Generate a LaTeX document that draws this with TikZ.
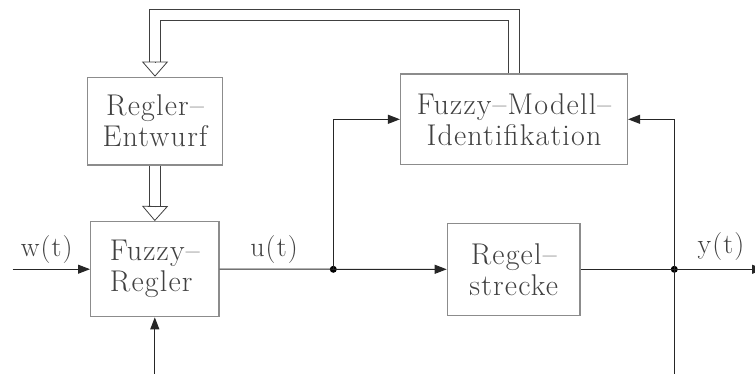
\documentclass[tikz,border=0pt]{standalone}
\usepackage{fontspec}
\setmainfont{Latin Modern Roman}[LetterSpace=4]
\usetikzlibrary{arrows.meta}
\definecolor{boxline}{RGB}{140,140,140}
\begin{document}
\begin{tikzpicture}[x=1pt,y=-1pt,
  box/.style={draw=boxline, line width=1.3pt, inner sep=0pt,
    font=\fontsize{30}{31}\selectfont, text=black!75},
  sig/.style={draw=black!85, line width=1pt, -{Triangle[length=12pt,width=9pt]}},
  dbl/.style={draw=black!75, double=white, double distance=10pt, line width=1pt, line join=miter},
  openhead/.style={draw=black!75, line width=0.8pt, -{Triangle[open,length=15pt,width=26pt]}},
  lbl/.style={font=\fontsize{28}{30}\selectfont, text=black!75, inner sep=0pt},
  junction/.style={circle, fill=black, inner sep=0pt, minimum size=7pt}]
\useasboundingbox (0,0) rectangle (755,374);

% blocks
\node[box, minimum width=135.4pt, minimum height=87.7pt, align=center] (re) at (155,121.2) {Regler--\\Entwurf};
\node[box, minimum width=128.3pt, minimum height=95pt, align=left] (fr) at (154.8,269.2) {Fuzzy--\\Regler};
\node[box, minimum width=226.8pt, minimum height=90.7pt, align=center] (fmi) at (514,119.3) {Fuzzy--Modell--\\Identifikation};
\node[box, minimum width=132.7pt, minimum height=92pt, align=center] (rs) at (513.7,269.3) {Regel--\\strecke};

% free ends and branch points
\coordinate (win) at (12.7,269.2);
\coordinate (rin) at (154.8,374);
\coordinate (ybot) at (674.3,374);
\coordinate (yout) at (764,269.3);
\node[junction] (uj) at (333.3,269.3) {};
\node[junction] (yj) at (674.3,269.3) {};
\coordinate (tl) at (155,15);
\coordinate (rehead) at (155,62);
\coordinate (frhead) at (155,207);

% signal lines
\draw[sig] (win) -- (fr.west);
\draw[sig] (rin) -- (fr.south);
\draw[sig] (fr.east) -- (rs.west);
\draw[sig] (uj.center) |- (fmi.west);
\draw[sig] (rs.east) -- (yout);
\draw[sig] (ybot) |- (fmi.east);

% parameter transfer (double lines)
\draw[dbl] (fmi.north) |- (tl) -- (rehead);
\draw[openhead] (rehead) -- (re.north);
\draw[dbl] (re.south) -- (frhead);
\draw[openhead] (frhead) -- (fr.north);

% signal names
\node[lbl] (wl) at (46.7,250) {w(t)};
\node[lbl] (ul) at (274,250) {u(t)};
\node[lbl] (yl) at (721,247) {y(t)};
\end{tikzpicture}
\end{document}
